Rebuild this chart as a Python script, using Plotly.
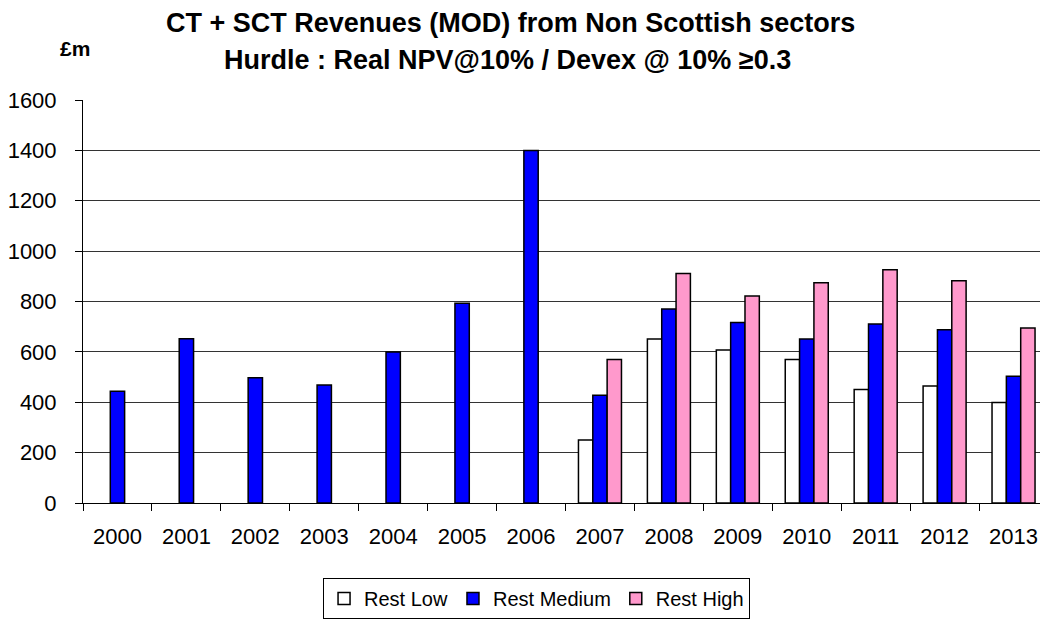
import plotly.graph_objects as go

years = [str(y) for y in range(2000, 2014)]
rest_low = [None, None, None, None, None, None, None, 250, 651, 607, 570, 451, 465, 399]
rest_medium = [444, 652, 497, 468, 600, 793, 1400, 428, 770, 717, 651, 711, 688, 503]
rest_high = [None, None, None, None, None, None, None, 570, 911, 822, 874, 926, 882, 695]

FONT = "Liberation Sans, Arial, sans-serif"
line = dict(color="black", width=1.5)

fig = go.Figure()
fig.add_trace(go.Bar(x=years, y=rest_low, name="Rest Low",
                     marker=dict(color="white", line=line)))
fig.add_trace(go.Bar(x=years, y=rest_medium, name="Rest Medium",
                     marker=dict(color="#0000FF", line=line)))
fig.add_trace(go.Bar(x=years, y=rest_high, name="Rest High",
                     marker=dict(color="#FF99CC", line=line)))

# page has an 8px body margin, so the figure is a bit smaller than the window
fig.update_layout(
    width=1040, height=613,
    margin=dict(l=75, r=0, t=92, b=118),
    paper_bgcolor="white", plot_bgcolor="white",
    font=dict(family=FONT, size=22, color="black"),
    barmode="group", bargap=0.376, bargroupgap=0,
    showlegend=True,
    legend=dict(
        orientation="h", x=0.47, xanchor="center", y=-0.186, yanchor="top",
        bordercolor="black", borderwidth=1, font=dict(size=20),
        itemwidth=30, tracegroupgap=0,
    ),
    annotations=[
        dict(text="<b>CT + SCT Revenues (MOD) from Non Scottish sectors</b>",
             x=0.4425, y=1.19, xref="paper", yref="paper",
             xanchor="center", yanchor="middle", showarrow=False,
             font=dict(family=FONT, size=27)),
        dict(text="<b>Hurdle : Real NPV@10% / Devex @ 10% \u22650.3</b>",
             x=0.4394, y=1.099, xref="paper", yref="paper",
             xanchor="center", yanchor="middle", showarrow=False,
             font=dict(family=FONT, size=27)),
        dict(text="<b>\u00a3m</b>", x=-0.0088, y=1.128,
             xref="paper", yref="paper", xanchor="center", yanchor="middle",
             showarrow=False, font=dict(family=FONT, size=21)),
    ],
)

fig.update_xaxes(
    type="category", tickson="boundaries", ticks="outside", ticklen=7,
    tickcolor="black", showline=True, linecolor="black", linewidth=1,
    showgrid=False, tickfont=dict(size=22), ticklabelstandoff=14,
)
fig.update_yaxes(
    range=[0, 1600], dtick=200, ticks="outside", ticklen=7,
    tickcolor="black", showline=True, linecolor="black", linewidth=1,
    showgrid=True, gridcolor="#333333", gridwidth=1,
    zeroline=False, tickfont=dict(size=22), ticklabelstandoff=14,
)

fig.write_html("out.html")
